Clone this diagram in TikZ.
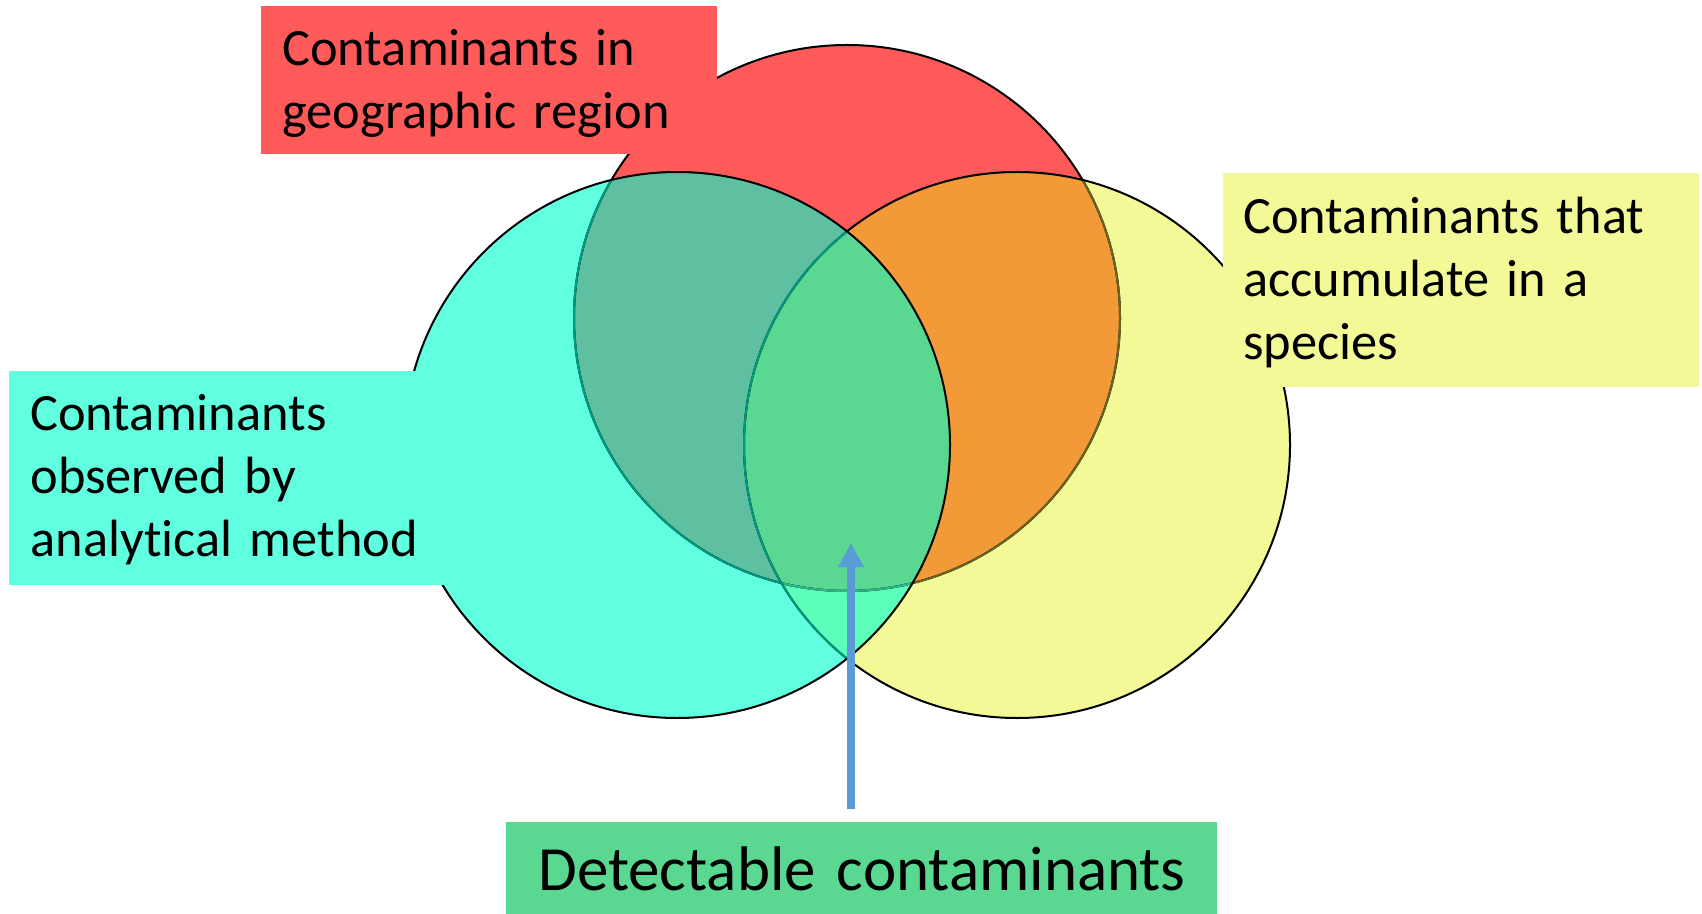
\documentclass[tikz,border=0pt]{standalone}
\usepackage{fontspec}
\setmainfont{Carlito}[RawFeature={-liga;-clig;-dlig;-calt}, WordSpace=0.8]
\usetikzlibrary{arrows.meta}
\definecolor{cRed}{HTML}{FF5A5A}
\definecolor{cCyan}{HTML}{60FFE0}
\definecolor{cYel}{HTML}{F2F996}
\definecolor{cRC}{HTML}{5EC0A0}
\definecolor{cRY}{HTML}{F39A38}
\definecolor{cCY}{HTML}{5BFFB9}
\definecolor{cAll}{HTML}{5AD892}
\definecolor{cTeal}{HTML}{009A80}
\definecolor{cTealG}{HTML}{2DB587}
\definecolor{cOlive}{HTML}{6A6420}
\definecolor{cArrow}{HTML}{5B9BD5}
\begin{document}
\begin{tikzpicture}[x=0.5pt,y=-0.5pt,
  edge/.style={line width=1pt},
  lbl/.style={inner xsep=10.5pt, inner ysep=0pt, anchor=north west, align=left,
    font=\fontsize{26.2}{31.5}\selectfont},
  arr/.style={draw=cArrow, line width=4pt, -{Triangle[length=12pt,width=12pt]}}]
\useasboundingbox (0,0) rectangle (1702,914);
\def\RC{(847,318) circle[radius=273]}
\def\CC{(677,445) circle[radius=273]}
\def\YC{(1017,445) circle[radius=273]}
% fills
\fill[cRed] \RC;
\fill[cYel] \YC;
\fill[cCyan] \CC;
\begin{scope}\clip \RC; \fill[cRC] \CC; \end{scope}
\begin{scope}\clip \RC; \fill[cRY] \YC; \end{scope}
\begin{scope}\clip \CC; \fill[cCY] \YC; \end{scope}
\begin{scope}\clip \RC; \clip \CC; \fill[cAll] \YC; \end{scope}
% red border
\draw[edge] \RC;
\begin{scope}\clip \YC; \draw[edge,cOlive] \RC; \end{scope}
\begin{scope}\clip \CC; \draw[edge,cTeal] \RC; \end{scope}
\begin{scope}\clip \CC; \clip \YC; \draw[edge,cTealG] \RC; \end{scope}
% yellow border
\draw[edge] \YC;
\begin{scope}\clip \CC; \draw[edge,cTeal] \YC; \end{scope}
% cyan border
\draw[edge] \CC;
% labels
\node[lbl, fill=cRed, text width=207pt, text height=29.5pt, text depth=44.5pt]
  (geo) at (261,6) {Contaminants in\\geographic region};
\node[lbl, fill=cCyan, text width=200.5pt, text height=29.5pt, text depth=77.5pt]
  (obs) at (9,371) {Contaminants\\observed by\\analyt\kern0pt ical method};
\node[lbl, inner xsep=10pt, fill=cYel, text width=218pt, text height=30pt, text depth=77pt]
  (acc) at (1223,173) {Contaminants that\\accumulate in a\\species};
\node[anchor=north west, inner sep=0pt, align=center, fill=cAll, text width=355.5pt,
  text height=34pt, text depth=12pt, font=\fontsize{31.5}{37}\selectfont]
  (det) at (506,822) {Detectable contaminants};
% arrow
\coordinate (tip) at (851,543);
\draw[arr, shorten <=6.5pt] (det.north -| tip) -- (tip);
\end{tikzpicture}
\end{document}
